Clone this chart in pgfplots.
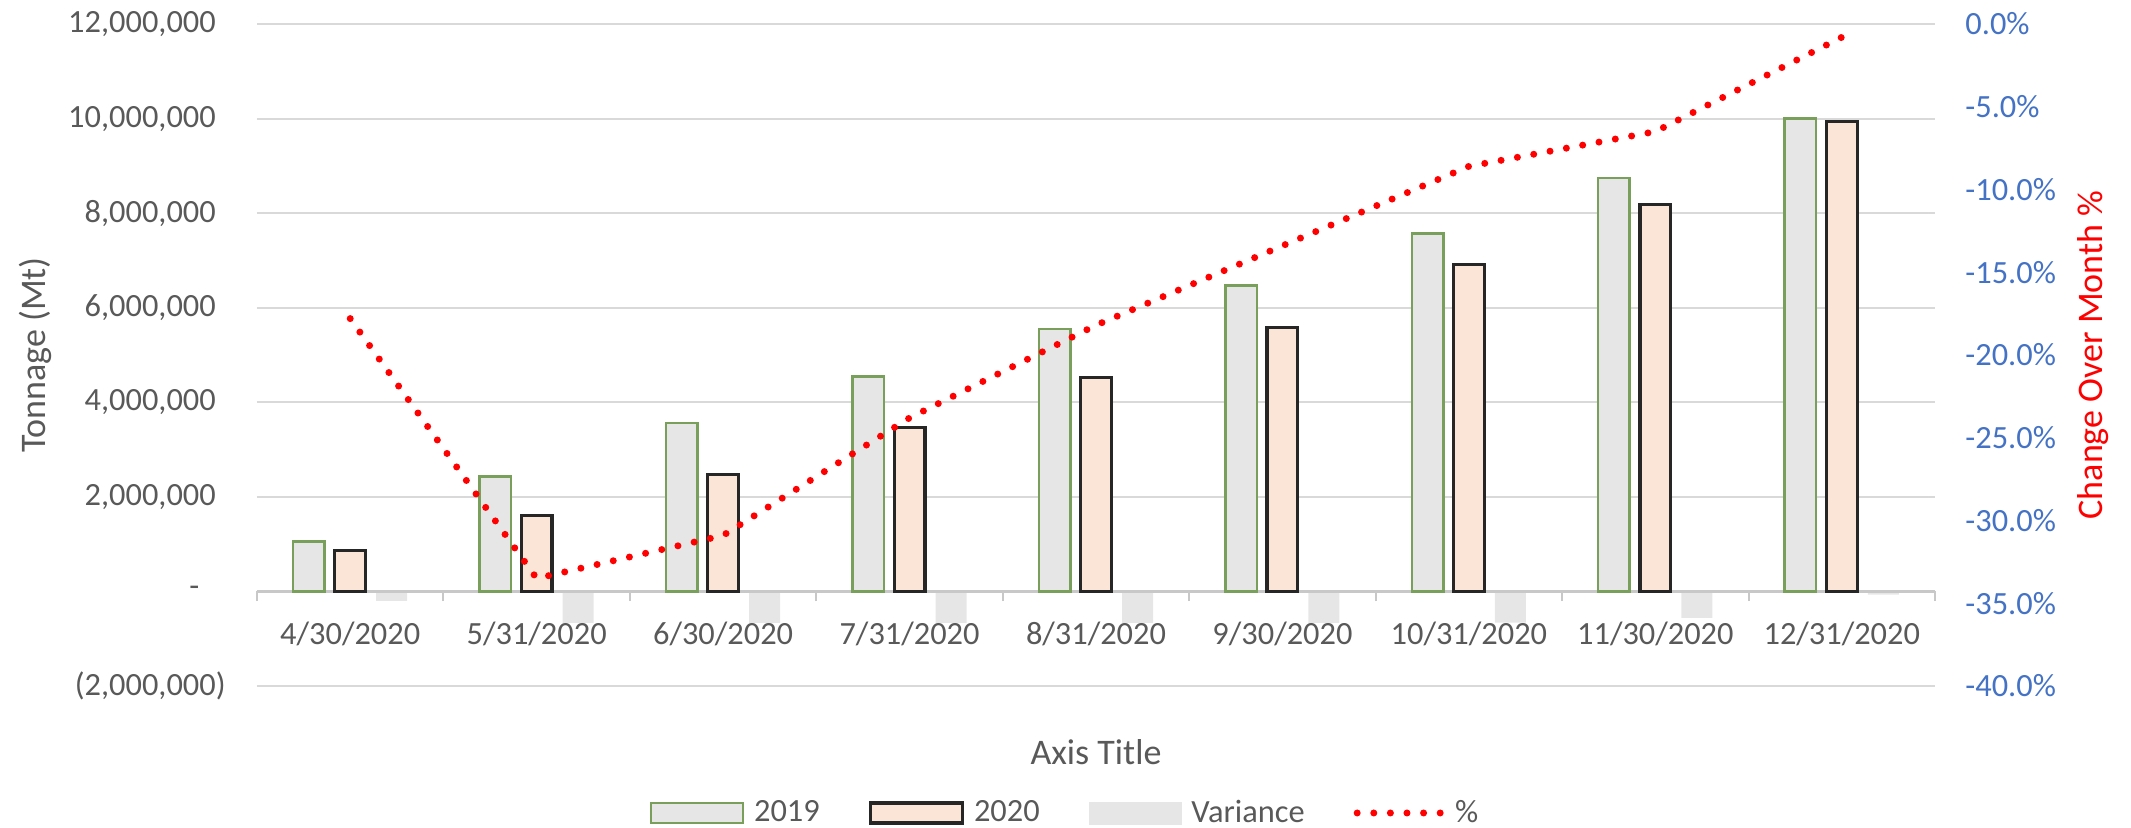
\documentclass[border=0pt]{standalone}
\usepackage{fontspec}
\setmainfont{Carlito}
\usepackage{pgfplots}
\pgfplotsset{compat=1.18}
\definecolor{gridc}{RGB}{217,217,217}
\definecolor{axisc}{RGB}{200,200,200}
\definecolor{txt}{RGB}{89,89,89}
\definecolor{blueax}{RGB}{68,114,196}
\definecolor{g19}{RGB}{231,230,230}
\definecolor{e19}{RGB}{120,160,90}
\definecolor{f20}{RGB}{251,229,214}
\definecolor{e20}{RGB}{38,38,38}
\definecolor{varc}{RGB}{230,230,230}
\newcommand\tfont{\fontsize{16.2}{19.4}\selectfont}
\newcommand\lfont{\fontsize{18}{21.6}\selectfont}
\begin{document}
\begin{tikzpicture}
\begin{axis}[
  set layers,
  at={(0pt,0pt)}, anchor=south west,
  scale only axis, width=839pt, height=331pt,
  xmin=-0.5, xmax=8.5, ymin=-2000000, ymax=12000000,
  enlargelimits=false,
  scaled y ticks=false, scaled x ticks=false,
  axis x line=middle, axis y line=left,
  every inner x axis line/.append style={-},
  x axis line style={draw=axisc, line width=1.75pt, -},
  y axis line style={draw=none},
  hide obscured x ticks=false, hide obscured y ticks=false,
  xtick={0,1,2,3,4,5,6,7,8},
  xticklabels={4/30/2020,5/31/2020,6/30/2020,7/31/2020,8/31/2020,9/30/2020,10/31/2020,11/30/2020,12/31/2020},
  minor xtick={-0.5,0.5,1.5,2.5,3.5,4.5,5.5,6.5,7.5,8.5},
  major tick length=0pt, minor tick length=5pt,
  tick align=outside,
  minor x tick style={draw=axisc, line width=1pt},
  major x tick style={draw=none},
  ytick style={draw=none},
  xticklabel style={anchor=center, yshift=-21.5pt, fill=white, inner sep=0pt, text=txt, font=\tfont},
  ytick={-2000000,0,2000000,4000000,6000000,8000000,10000000,12000000},
  yticklabels={{(2,000,000)},{-\hphantom{0)}},{2,000,000\hphantom{)}},{4,000,000\hphantom{)}},{6,000,000\hphantom{)}},{8,000,000\hphantom{)}},{10,000,000\hphantom{)}},{12,000,000\hphantom{)}}},
  yticklabel style={anchor=east, inner sep=0pt, xshift=-15.5pt, text=txt, font=\tfont},
  ymajorgrids, major grid style={draw=gridc, line width=1pt},
  xlabel={Axis Title},
  every axis x label/.style={at={(axis description cs:0.5,-0.0997)}, anchor=center, font=\lfont, text=txt},
  ylabel={Tonnage (Mt)},
  every axis y label/.style={at={(axis description cs:-0.1323,0.5)}, anchor=center, rotate=90, font=\lfont, text=txt},
]
\addplot[ybar, bar width=15.75pt, bar shift=-20.7pt, fill=g19, draw=e19, line width=1.25pt]
  coordinates {(0,1060000) (1,2430000) (2,3560000) (3,4550000) (4,5550000) (5,6470000) (6,7570000) (7,8740000) (8,10000000)};
\addplot[ybar, bar width=15.4pt, bar shift=0pt, fill=f20, draw=e20, line width=1.6pt]
  coordinates {(0,860000) (1,1600000) (2,2470000) (3,3460000) (4,4530000) (5,5590000) (6,6910000) (7,8180000) (8,9930000)};
\addplot[ybar, bar width=15.5pt, bar shift=20.75pt, fill=varc, draw=none, on layer=axis background]
  coordinates {(0,-200000) (1,-830000) (2,-1090000) (3,-1090000) (4,-1020000) (5,-880000) (6,-660000) (7,-560000) (8,-70000)};
\end{axis}
\begin{axis}[
  set layers,
  at={(0pt,0pt)}, anchor=south west,
  scale only axis, width=839pt, height=331pt,
  xmin=-0.5, xmax=8.5, ymin=-40, ymax=0,
  enlargelimits=false,
  scaled y ticks=false,
  hide x axis,
  axis y line*=right, y axis line style={draw=none},
  major tick length=0pt, ytick style={draw=none},
  ytick={-40,-35,-30,-25,-20,-15,-10,-5,0},
  yticklabels={{-40.0\%},{-35.0\%},{-30.0\%},{-25.0\%},{-20.0\%},{-15.0\%},{-10.0\%},{-5.0\%},{0.0\%}},
  yticklabel style={anchor=west, inner sep=0pt, xshift=15pt, text=blueax, font=\tfont},
  ylabel={Change Over Month \%},
  every axis y label/.style={at={(axis description cs:1.0942,0.5)}, anchor=center, rotate=90, font=\lfont, text=red},
  legend style={at={(axis description cs:0.4824,-0.1918)}, anchor=center, draw=none, fill=none,
    font=\tfont, text=txt, nodes={inner sep=2.5pt},
    /tikz/every even column/.append style={column sep=22pt},
    /tikz/every odd column/.append style={column sep=2.5pt}},
  legend columns=4,
]
\addlegendimage{legend image code/.code={\draw[fill=g19,draw=e19,line width=1.25pt] (0pt,-5pt) rectangle (46pt,5pt);}}
\addlegendentry{2019}
\addlegendimage{legend image code/.code={\draw[fill=f20,draw=e20,line width=1.6pt] (0pt,-5pt) rectangle (46pt,5pt);}}
\addlegendentry{2020}
\addlegendimage{legend image code/.code={\fill[varc] (0pt,-5.5pt) rectangle (46pt,5.5pt);}}
\addlegendentry{Variance}
\addplot[red, line width=3.5pt, dash pattern=on 0pt off 8.3pt, line cap=round, mark=none,
  legend image code/.code={\draw[red, line width=3.5pt, dash pattern=on 0pt off 8.3pt, line cap=round] (1.75pt,0pt) -- (44pt,0pt);}]
  coordinates {(0,-17.8) (1,-33.5) (2,-30.9) (3,-23.8) (4,-18.2) (5,-13.4) (6,-8.6) (7,-6.5) (8,-0.8)};
\addlegendentry{\%}
\end{axis}
\pgfresetboundingbox
\path[use as bounding box] (-128.5pt,-70.5pt) rectangle (937pt,343pt);
\end{tikzpicture}
\end{document}
